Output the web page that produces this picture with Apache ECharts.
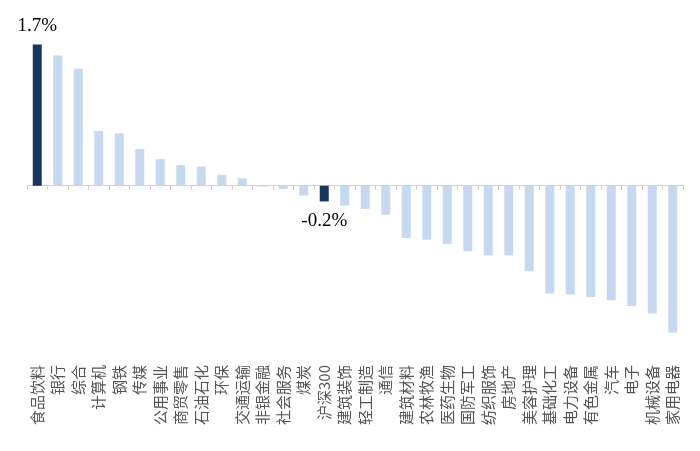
<!DOCTYPE html>
<html><head><meta charset="utf-8">
<script src="https://cdn.jsdelivr.net/npm/echarts@6/dist/echarts.min.js"></script>
<style>html,body{margin:0;padding:0;background:#fff}#c{width:700px;height:451px}</style>
</head><body><div id="c"></div>
<script>
const categories = ['食品饮料','银行','综合','计算机','钢铁','传媒','公用事业','商贸零售','石油石化','环保','交通运输','非银金融','社会服务','煤炭','沪深300','建筑装饰','轻工制造','通信','建筑材料','农林牧渔','医药生物','国防军工','纺织服饰','房地产','美容护理','基础化工','电力设备','有色金属','汽车','电子','机械设备','家用电器'];
const values = [1.70,1.57,1.41,0.66,0.63,0.44,0.32,0.25,0.23,0.13,0.09,-0.01,-0.04,-0.12,-0.19,-0.24,-0.28,-0.35,-0.63,-0.65,-0.70,-0.79,-0.84,-0.84,-1.03,-1.30,-1.31,-1.34,-1.38,-1.45,-1.54,-1.77];
const highlighted = ['食品饮料','沪深300'];
const labelTexts = {'食品饮料':'1.7%','沪深300':'-0.2%'};

const dark = '#1b365d', light = '#c6d9f1';
const data = values.map((v,i)=>{
  const c = categories[i];
  const d = {value:v, itemStyle:{color: highlighted.includes(c)?dark:light}};
  if (labelTexts[c]) {
    d.label = {show:true, position: v>=0?'top':'bottom', distance: v>=0?9:10,
      formatter: labelTexts[c], fontFamily:'Liberation Serif', fontSize:19, color:'#000'};
  }
  return d;
});
const chart = echarts.init(document.getElementById('c'));
chart.setOption({
  animation:false,
  grid:{left:27,right:17,top:28,bottom:91},
  xAxis:[{type:'category',data:categories,
    axisLine:{onZero:true,lineStyle:{color:'#d8cfc6',width:1}},
    axisTick:{show:true,interval:0,length:4,inside:false,lineStyle:{color:'#d8cfc6'}},
    axisLabel:{show:false}},
   {type:'category',data:categories,position:'bottom',
    axisLine:{show:false,onZero:false},axisTick:{show:false},
    axisLabel:{rotate:90,interval:0,margin:5,fontFamily:'Noto Sans CJK SC',fontSize:15,color:'#555555'}}],
  yAxis:{type:'value',min:-2.1,max:1.9,show:false,splitLine:{show:false}},
  series:[{type:'bar',data:data,barWidth:9,xAxisIndex:0},
          {type:'bar',data:[],xAxisIndex:1}]
});
</script></body></html>
